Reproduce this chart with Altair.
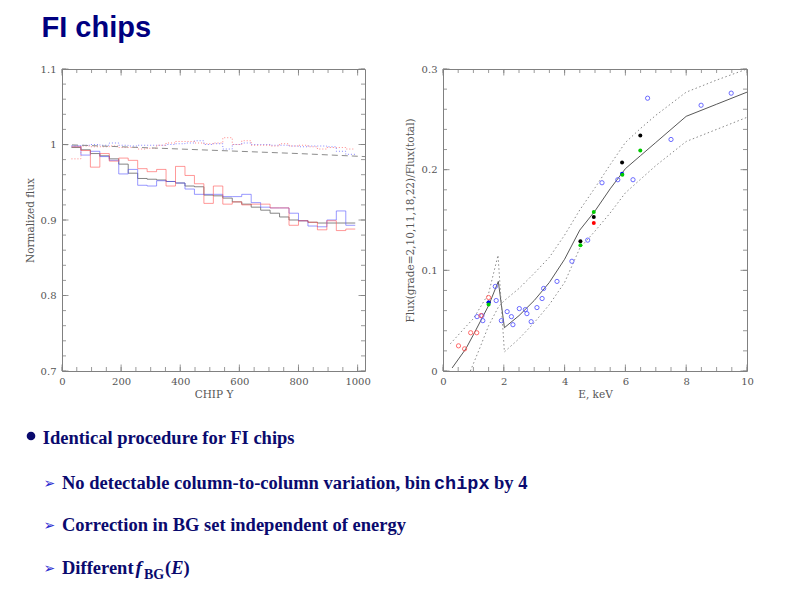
import altair as alt
import pandas as pd

# ---------------- left panel: normalized flux vs CHIP Y ----------------
chip_edges = [32 * k for k in range(1, 32)]  # 30 bins of 32 rows, 32..992

red_solid = [0.997, 0.992, 0.970, 0.988, 0.978, 0.982, 0.979, 0.968, 0.964, 0.967,
             0.945, 0.971, 0.959, 0.948, 0.922, 0.945, 0.921, 0.924, 0.920, 0.921,
             0.921, 0.916, 0.916, 0.893, 0.899, 0.897, 0.887, 0.899, 0.886, 0.888]
blue_solid = [0.998, 0.986, 0.991, 0.984, 0.979, 0.961, 0.967, 0.946, 0.945, 0.952,
              0.951, 0.949, 0.941, 0.934, 0.934, 0.934, 0.931, 0.931, 0.934, 0.923,
              0.917, 0.916, 0.916, 0.909, 0.899, 0.892, 0.891, 0.900, 0.912, 0.893]
gray_solid = [0.996, 0.993, 0.988, 0.985, 0.981, 0.974, 0.962, 0.955, 0.954, 0.953,
              0.951, 0.949, 0.945, 0.944, 0.933, 0.932, 0.929, 0.924, 0.921, 0.917,
              0.913, 0.909, 0.904, 0.900, 0.899, 0.897, 0.896, 0.896, 0.896, 0.896]
red_dotted = [0.981, 0.998, 0.997, 0.997, 0.998, 0.996, 0.996, 0.994, 0.995, 0.999,
              1.002, 1.004, 1.004, 1.002, 1.001, 1.002, 1.009, 1.000, 1.005, 0.999,
              0.999, 0.998, 1.001, 0.998, 0.999, 0.997, 0.994, 0.996, 0.996, 0.994]
blue_dotted = [0.998, 0.999, 1.000, 0.999, 1.002, 0.999, 0.998, 0.999, 0.999, 0.999,
               1.000, 1.001, 1.002, 1.005, 1.000, 1.001, 0.994, 1.000, 1.002, 1.000,
               1.000, 0.999, 0.999, 0.998, 0.997, 0.998, 0.998, 0.997, 0.991, 0.987]
model_chip = [0, 200, 400, 600, 800, 1025]
model_flux = [1.000, 0.997, 0.994, 0.991, 0.988, 0.984]

left_x_major = [0, 200, 400, 600, 800, 1000]
left_y_major = [0.7, 0.8, 0.9, 1.0, 1.1]

# ---------------- right panel: flux fraction vs energy ----------------
model_E = [0.30, 0.75, 1.0, 1.5, 1.82, 2.02, 2.5, 3.0, 3.5, 4.0, 4.5, 5.0, 5.5, 6.0, 6.5, 7.0, 8.0, 9.0, 10.0]
model_F = [0.003, 0.022, 0.036, 0.065, 0.089, 0.043, 0.055, 0.070, 0.088, 0.111, 0.140, 0.159,
           0.181, 0.201, 0.214, 0.227, 0.253, 0.265, 0.277]
bandA_E = [0.24, 0.75, 1.0, 1.5, 1.81, 2.02, 2.5, 3.0, 3.5, 4.0, 4.5, 5.0, 5.5, 6.0, 7.0, 8.0, 9.0, 10.0]
bandA_F = [0.027, 0.044, 0.052, 0.077, 0.115, 0.019, 0.032, 0.048, 0.066, 0.088, 0.122, 0.139,
           0.157, 0.177, 0.204, 0.228, 0.240, 0.252]
bandB_E = [0.90, 1.2, 1.5, 1.83, 2.02, 2.5, 3.0, 3.5, 4.0, 4.5, 5.0, 5.5, 6.0, 6.5, 7.0, 8.0, 9.0, 10.0]
bandB_F = [0.000, 0.022, 0.045, 0.064, 0.070, 0.082, 0.097, 0.113, 0.135, 0.160, 0.182, 0.205,
           0.227, 0.241, 0.254, 0.277, 0.289, 0.300]

blue_open_E = [1.12, 1.28, 1.31, 1.72, 1.75, 1.92, 2.11, 2.25, 2.30, 2.51, 2.71, 2.76, 2.90,
               3.09, 3.26, 3.31, 3.75, 4.24, 4.76, 5.23, 5.75, 6.25, 6.73, 7.50, 8.49, 9.48]
blue_open_F = [0.054, 0.055, 0.050, 0.084, 0.070, 0.050, 0.059, 0.054, 0.046, 0.062, 0.061, 0.057,
               0.049, 0.063, 0.072, 0.082, 0.089, 0.109, 0.130, 0.187, 0.190, 0.190, 0.271, 0.230,
               0.264, 0.276]
red_open_E = [0.51, 0.71, 0.91, 1.11, 1.25, 1.50]
red_open_F = [0.025, 0.022, 0.038, 0.038, 0.055, 0.073]

black_E = [1.50, 4.52, 4.96, 5.89, 6.49]
black_F = [0.068, 0.129, 0.153, 0.207, 0.234]
green_E = [1.50, 4.52, 4.96, 5.90, 6.49]
green_F = [0.066, 0.125, 0.158, 0.195, 0.219]
red_E = [4.96]
red_F = [0.147]
bluef_E = [1.50, 5.89]
bluef_F = [0.068, 0.196]

right_x_major = [0, 2, 4, 6, 8, 10]
right_y_major = [0, 0.1, 0.2, 0.3]

# ---------------- styles ----------------
FRAME = "#808080"
LABEL = "#555555"
AXFONT = "DejaVu Serif"
NAVY = "#0a0a6e"
W1, W2, H = 303, 304, 302

xs_l = alt.Scale(domain=[0, 1025], nice=False, zero=False)
ys_l = alt.Scale(domain=[0.7, 1.1], nice=False, zero=False)
xs_r = alt.Scale(domain=[0, 10], nice=False, zero=False)
ys_r = alt.Scale(domain=[0, 0.3], nice=False, zero=False)


def axis(values, title, fmt, lpad, tpad):
    return alt.Axis(values=values, title=title, format=fmt, ticks=False, tickSize=0,
                    domain=False, grid=False, labelFlush=False, labelOverlap=False,
                    labelFont=AXFONT, labelFontSize=10,
                    labelColor=LABEL, labelPadding=lpad, titleFont=AXFONT,
                    titleFontSize=10.5, titleFontWeight="normal", titleColor=LABEL,
                    titlePadding=tpad)


AX_LX = axis(left_x_major, "CHIP Y", "d", 5, 3)
AX_LY = axis(left_y_major, "Normalized flux", "~g", 6, 5)
AX_RX = axis(right_x_major, "E, keV", "d", 5, 3)
AX_RY = axis(right_y_major, "Flux(grade=2,10,11,18,22)/Flux(total)", "~g", 6, 6)


def tick_layers(xscale, yscale, xax, yax, xmaj, xmin, ymaj, ymin, W, maj=6.5, mnr=4):
    out = []
    for vals, L in ((xmin, mnr), (xmaj, maj)):
        d = pd.DataFrame({"v": vals})
        r = alt.Chart(d).mark_rule(color=FRAME, strokeWidth=0.8)
        out.append(r.encode(x=alt.X("v:Q", scale=xscale, axis=xax), y=alt.value(H), y2=alt.value(H - L)))
        out.append(r.encode(x=alt.X("v:Q", scale=xscale, axis=xax), y=alt.value(0), y2=alt.value(L)))
    for vals, L in ((ymin, mnr), (ymaj, maj)):
        d = pd.DataFrame({"v": vals})
        r = alt.Chart(d).mark_rule(color=FRAME, strokeWidth=0.8)
        out.append(r.encode(y=alt.Y("v:Q", scale=yscale, axis=yax), x=alt.value(0), x2=alt.value(L)))
        out.append(r.encode(y=alt.Y("v:Q", scale=yscale, axis=yax), x=alt.value(W), x2=alt.value(W - L)))
    return out


def txt(s, x, y, size, color=NAVY, font="Liberation Serif", weight="bold", style="normal"):
    return alt.Chart(pd.DataFrame({"t": [s]})).mark_text(
        font=font, fontSize=size, fontWeight=weight, fontStyle=style, color=color,
        align="left", baseline="alphabetic").encode(text="t:N", x=alt.value(x), y=alt.value(y))


def step_df(values):
    return pd.DataFrame({"chip": chip_edges, "flux": values + [values[-1]]})


# ---------------- left panel layers ----------------
left_layers = []
for vals, col, dash, op in [
    (gray_solid, "#666666", None, 0.8),
    (blue_solid, "#5555ff", None, 0.6),
    (red_solid, "#ff5555", None, 0.6),
    (blue_dotted, "#6a6aff", [1, 2], 0.8),
    (red_dotted, "#ff6a6a", [1, 2], 0.8),
]:
    mk = dict(interpolate="step-after", color=col, strokeWidth=1, opacity=op)
    if dash:
        mk["strokeDash"] = dash
    left_layers.append(alt.Chart(step_df(vals)).mark_line(**mk).encode(
        x=alt.X("chip:Q", scale=xs_l, axis=AX_LX),
        y=alt.Y("flux:Q", scale=ys_l, axis=AX_LY)))

left_layers.append(
    alt.Chart(pd.DataFrame({"chip": model_chip, "flux": model_flux}))
    .mark_line(color="#8c8c8c", strokeWidth=1, strokeDash=[6, 4])
    .encode(x=alt.X("chip:Q", scale=xs_l, axis=AX_LX), y=alt.Y("flux:Q", scale=ys_l, axis=AX_LY))
)

left_layers += tick_layers(xs_l, ys_l, AX_LX, AX_LY, left_x_major, list(range(0, 1001, 50)),
                           left_y_major, [round(0.7 + 0.02 * i, 2) for i in range(21)], W1)

# page anchor (top-left corner of the slide) and slide text, positioned relative to left plot
left_layers.append(
    alt.Chart(pd.DataFrame({"a": [0]})).mark_rect(opacity=0).encode(
        x=alt.value(-53), x2=alt.value(-52), y=alt.value(-60), y2=alt.value(-59))
)
left_layers.append(txt("FI chips", -20.5, -32, 29, color="#000080", font="Liberation Sans"))
left_layers.append(
    alt.Chart(pd.DataFrame({"a": [0]})).mark_circle(color=NAVY, opacity=1, size=75).encode(
        x=alt.value(-31), y=alt.value(367))
)
BODY = 18.5
left_layers.append(txt("Identical procedure for FI chips", -19.3, 375.3, BODY))
for yc in (413.7, 455.5, 498.8):
    left_layers.append(txt("\u27a2", -18.5, yc + 5, 14, color="#2a2ad0", font="DejaVu Sans", weight="normal"))
left_layers.append(txt("No detectable column-to-column variation, bin", 0, 420.3, BODY))
left_layers.append(txt("chipx", 372, 420.3, BODY, font="Liberation Mono"))
left_layers.append(txt("by 4", 432, 420.3, BODY))
left_layers.append(txt("Correction in BG set independent of energy", 0, 462, BODY))
left_layers.append(txt("Different", 0, 505.3, BODY))
left_layers.append(txt("f", 73.5, 505.3, BODY + 1, style="italic"))
left_layers.append(txt("BG", 82, 509.5, 14))
left_layers.append(txt("(", 103, 505.3, BODY))
left_layers.append(txt("E", 109.2, 505.3, BODY, style="italic"))
left_layers.append(txt(")", 121.5, 505.3, BODY))

left = alt.layer(*left_layers).properties(
    width=W1, height=H, view=alt.ViewBackground(stroke=FRAME, strokeWidth=1))

# ---------------- right panel layers ----------------
right_layers = [
    alt.Chart(pd.DataFrame({"E": model_E, "F": model_F})).mark_line(color="#444444", strokeWidth=0.9)
    .encode(x=alt.X("E:Q", scale=xs_r, axis=AX_RX), y=alt.Y("F:Q", scale=ys_r, axis=AX_RY))
]
for e, f in ((bandA_E, bandA_F), (bandB_E, bandB_F)):
    right_layers.append(
        alt.Chart(pd.DataFrame({"E": e, "F": f})).mark_line(color="#8a8a8a", strokeWidth=1, strokeDash=[1.5, 2.5], clip=True)
        .encode(x=alt.X("E:Q", scale=xs_r, axis=AX_RX), y=alt.Y("F:Q", scale=ys_r, axis=AX_RY))
    )
for e, f, col, filled, sz in [
    (blue_open_E, blue_open_F, "#5a5aff", False, 18),
    (red_open_E, red_open_F, "#ff5a5a", False, 18),
    (black_E, black_F, "#000000", True, 16),
    (bluef_E, bluef_F, "#0000ff", True, 16),
    (green_E, green_F, "#00cc00", True, 16),
    (red_E, red_F, "#ff0000", True, 16),
]:
    mk = alt.Chart(pd.DataFrame({"E": e, "F": f}))
    if filled:
        mk = mk.mark_circle(color=col, size=sz, opacity=1)
    else:
        mk = mk.mark_point(shape="circle", filled=False, color=col, size=sz, strokeWidth=0.9, opacity=1)
    right_layers.append(mk.encode(x=alt.X("E:Q", scale=xs_r, axis=AX_RX), y=alt.Y("F:Q", scale=ys_r, axis=AX_RY)))

right_layers += tick_layers(xs_r, ys_r, AX_RX, AX_RY, right_x_major, [0.5 * i for i in range(21)],
                            right_y_major, [round(0.02 * i, 2) for i in range(16)], W2)

right = alt.layer(*right_layers).properties(
    width=W2, height=H, view=alt.ViewBackground(stroke=FRAME, strokeWidth=1))

chart = alt.hconcat(left, right, spacing=78, bounds="flush").properties(
    padding=0, background="white"
).configure_view(stroke=None)

chart.save("out.html", embed_options={"renderer": "svg", "actions": False})
